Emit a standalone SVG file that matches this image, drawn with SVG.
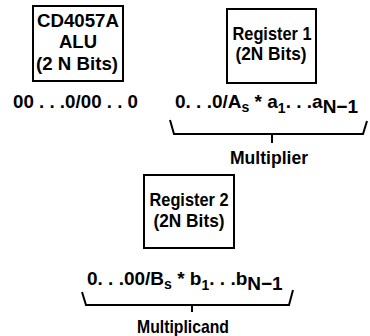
<svg xmlns="http://www.w3.org/2000/svg" width="370" height="336" viewBox="0 0 370 336">
<style>
.box{fill:#fff;stroke:#000;stroke-width:2}
.t{font-family:"Liberation Sans",Arial,sans-serif;font-weight:bold;font-size:19px;fill:#000}
.bt{font-family:"Liberation Sans",Arial,sans-serif;font-weight:bold;font-size:19px;fill:#000;text-anchor:middle}
.sub{font-size:14px}
.br{fill:none;stroke:#000;stroke-width:2}
</style>
<rect width="370" height="336" fill="#fff"/>
<g id="alu">
<rect class="box" x="33" y="6" width="90" height="75"/>
<text class="bt" x="78" y="27" font-size="20" textLength="82" lengthAdjust="spacingAndGlyphs">CD4057A</text>
<text class="bt" x="78" y="48" font-size="20" textLength="38" lengthAdjust="spacingAndGlyphs">ALU</text>
<text class="bt" x="77" y="70" font-size="20" textLength="82" lengthAdjust="spacingAndGlyphs">(2 N Bits)</text>
</g>
<g id="reg1">
<rect class="box" x="227" y="9" width="89" height="74"/>
<text class="bt" x="272" y="40" textLength="79" lengthAdjust="spacingAndGlyphs">Register 1</text>
<text class="bt" x="271" y="60" textLength="71" lengthAdjust="spacingAndGlyphs">(2N Bits)</text>
</g>
<g id="reg2">
<rect class="box" x="144" y="175" width="90" height="73"/>
<text class="bt" x="189" y="206" textLength="79" lengthAdjust="spacingAndGlyphs">Register 2</text>
<text class="bt" x="189" y="227" textLength="71" lengthAdjust="spacingAndGlyphs">(2N Bits)</text>
</g>
<g id="alu-value">
<text class="t" x="13" y="108" font-size="20" textLength="125" lengthAdjust="spacingAndGlyphs">00 . . .0/00 . . 0</text>
</g>
<g id="multiplier-value">
<text class="t" x="175" y="108">0. . .0/A<tspan class="sub" dy="4">s</tspan><tspan dy="-4"> * a</tspan><tspan class="sub" dy="5">1</tspan><tspan dy="-5">. . .a</tspan><tspan dy="5">N−1</tspan></text>
</g>
<g id="multiplicand-value">
<text class="t" x="87" y="285">0. . .00/B<tspan class="sub" dy="4">s</tspan><tspan dy="-4"> * b</tspan><tspan class="sub" dy="5">1</tspan><tspan dy="-5">. . .b</tspan><tspan dy="5">N−1</tspan></text>
</g>
<g id="connectors">
<path class="br" d="M170 120 L174 134 L363 134 L367 121 M272 134 V143"/>
<path class="br" d="M82 292 L86 305 L289 305 L293 290 M192 305 V312"/>
</g>
<g id="labels">
<text class="bt" x="269" y="164" textLength="78" lengthAdjust="spacingAndGlyphs">Multiplier</text>
<text class="bt" x="183" y="333" textLength="92" lengthAdjust="spacingAndGlyphs">Multiplicand</text>
</g>
</svg>
